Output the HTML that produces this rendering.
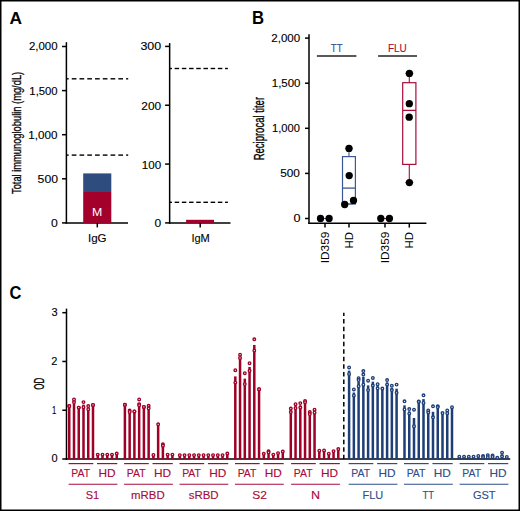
<!DOCTYPE html>
<html><head><meta charset="utf-8"><style>
html,body{margin:0;padding:0;background:#fff;}
svg{display:block;}
text{font-family:"Liberation Sans", sans-serif;}
</style></head><body>
<svg width="520" height="511" viewBox="0 0 520 511">
<rect x="0" y="0" width="520" height="511" fill="#fff"/>
<text transform="translate(9.44,23.67) scale(1.0176,1)" font-size="17.058" fill="#000" font-weight="bold">A</text>
<text transform="translate(252.01,23.96) scale(0.9488,1)" font-size="17.623" fill="#000" font-weight="bold">B</text>
<text transform="translate(9.54,298.5) scale(0.9325,1)" font-size="17.681" fill="#000" font-weight="bold">C</text>
<line x1="66.4" y1="42.2" x2="66.4" y2="223.7" stroke="#000" stroke-width="1.5"/>
<line x1="65.65" y1="223" x2="128" y2="223" stroke="#000" stroke-width="1.5"/>
<line x1="62" y1="46.5" x2="66.4" y2="46.5" stroke="#000" stroke-width="1.5"/>
<line x1="62" y1="90.6" x2="66.4" y2="90.6" stroke="#000" stroke-width="1.5"/>
<line x1="62" y1="134.7" x2="66.4" y2="134.7" stroke="#000" stroke-width="1.5"/>
<line x1="62" y1="178.8" x2="66.4" y2="178.8" stroke="#000" stroke-width="1.5"/>
<line x1="62" y1="222.9" x2="66.4" y2="222.9" stroke="#000" stroke-width="1.5"/>
<text transform="translate(28.93,50.3) scale(1.1159,1)" font-size="10.282" fill="#000" stroke="#000" stroke-width="0.12">2,000</text>
<text transform="translate(29.35,94.6) scale(1.1011,1)" font-size="10.282" fill="#000" stroke="#000" stroke-width="0.12">1,500</text>
<text transform="translate(28.33,139.1) scale(1.1337,1)" font-size="10.282" fill="#000" stroke="#000" stroke-width="0.12">1,000</text>
<text transform="translate(37.61,183.1) scale(1.1744,1)" font-size="10.423" fill="#000" stroke="#000" stroke-width="0.12">500</text>
<text transform="translate(51.11,227.29) scale(1.1559,1)" font-size="10.563" fill="#000" stroke="#000" stroke-width="0.12">0</text>
<line x1="97.3" y1="223" x2="97.3" y2="227.4" stroke="#000" stroke-width="1.5"/>
<rect x="83.2" y="173.4" width="28.1" height="18.6" fill="#2e4c7e"/>
<rect x="83.2" y="192" width="28.1" height="30.9" fill="#a4002c"/>
<text transform="translate(92.01,216) scale(1.1101,1)" font-size="11.159" fill="#fff">M</text>
<line x1="66.4" y1="78.8" x2="68.69" y2="78.8" stroke="#000" stroke-width="1.4"/>
<line x1="71.75" y1="78.8" x2="76.45" y2="78.8" stroke="#000" stroke-width="1.4"/>
<line x1="79.51" y1="78.8" x2="84.21" y2="78.8" stroke="#000" stroke-width="1.4"/>
<line x1="87.27" y1="78.8" x2="91.97" y2="78.8" stroke="#000" stroke-width="1.4"/>
<line x1="95.03" y1="78.8" x2="99.73" y2="78.8" stroke="#000" stroke-width="1.4"/>
<line x1="102.79" y1="78.8" x2="107.49" y2="78.8" stroke="#000" stroke-width="1.4"/>
<line x1="110.55" y1="78.8" x2="115.25" y2="78.8" stroke="#000" stroke-width="1.4"/>
<line x1="118.31" y1="78.8" x2="123.01" y2="78.8" stroke="#000" stroke-width="1.4"/>
<line x1="126.07" y1="78.8" x2="128.2" y2="78.8" stroke="#000" stroke-width="1.4"/>
<line x1="66.4" y1="155.1" x2="68.69" y2="155.1" stroke="#000" stroke-width="1.4"/>
<line x1="71.75" y1="155.1" x2="76.45" y2="155.1" stroke="#000" stroke-width="1.4"/>
<line x1="79.51" y1="155.1" x2="84.21" y2="155.1" stroke="#000" stroke-width="1.4"/>
<line x1="87.27" y1="155.1" x2="91.97" y2="155.1" stroke="#000" stroke-width="1.4"/>
<line x1="95.03" y1="155.1" x2="99.73" y2="155.1" stroke="#000" stroke-width="1.4"/>
<line x1="102.79" y1="155.1" x2="107.49" y2="155.1" stroke="#000" stroke-width="1.4"/>
<line x1="110.55" y1="155.1" x2="115.25" y2="155.1" stroke="#000" stroke-width="1.4"/>
<line x1="118.31" y1="155.1" x2="123.01" y2="155.1" stroke="#000" stroke-width="1.4"/>
<line x1="126.07" y1="155.1" x2="128.2" y2="155.1" stroke="#000" stroke-width="1.4"/>
<text transform="translate(87.96,241.6) scale(1.0249,1)" font-size="11.304" fill="#000" stroke="#000" stroke-width="0.12">IgG</text>
<text transform="translate(20.8,194.03) rotate(-90) scale(0.7223,1)" font-size="12.899" fill="#000" stroke="#000" stroke-width="0.3">Total immunoglobulin (mg/dL)</text>
<line x1="169.65" y1="43.1" x2="169.65" y2="223.7" stroke="#000" stroke-width="1.5"/>
<line x1="168.9" y1="222.9" x2="230.5" y2="222.9" stroke="#000" stroke-width="1.5"/>
<line x1="165.1" y1="46.41" x2="169.65" y2="46.41" stroke="#000" stroke-width="1.5"/>
<line x1="165.1" y1="105.24" x2="169.65" y2="105.24" stroke="#000" stroke-width="1.5"/>
<line x1="165.1" y1="164.07" x2="169.65" y2="164.07" stroke="#000" stroke-width="1.5"/>
<line x1="165.1" y1="222.9" x2="169.65" y2="222.9" stroke="#000" stroke-width="1.5"/>
<text transform="translate(140.4,50.25) scale(1.2256,1)" font-size="10.141" fill="#000" stroke="#000" stroke-width="0.12">300</text>
<text transform="translate(141.31,109.6) scale(1.1548,1)" font-size="10.282" fill="#000" stroke="#000" stroke-width="0.12">200</text>
<text transform="translate(141.73,168.59) scale(1.0921,1)" font-size="10.634" fill="#000" stroke="#000" stroke-width="0.12">100</text>
<text transform="translate(154.42,227.39) scale(1.1211,1)" font-size="10.704" fill="#000" stroke="#000" stroke-width="0.12">0</text>
<line x1="200.2" y1="222.9" x2="200.2" y2="227.4" stroke="#000" stroke-width="1.5"/>
<rect x="186.1" y="219.8" width="27.9" height="3.1" fill="#a4002c"/>
<line x1="169.65" y1="68.5" x2="171.95" y2="68.5" stroke="#000" stroke-width="1.4"/>
<line x1="174.65" y1="68.5" x2="179.15" y2="68.5" stroke="#000" stroke-width="1.4"/>
<line x1="181.85" y1="68.5" x2="186.35" y2="68.5" stroke="#000" stroke-width="1.4"/>
<line x1="189.05" y1="68.5" x2="193.55" y2="68.5" stroke="#000" stroke-width="1.4"/>
<line x1="196.25" y1="68.5" x2="200.75" y2="68.5" stroke="#000" stroke-width="1.4"/>
<line x1="203.45" y1="68.5" x2="207.95" y2="68.5" stroke="#000" stroke-width="1.4"/>
<line x1="210.65" y1="68.5" x2="215.15" y2="68.5" stroke="#000" stroke-width="1.4"/>
<line x1="217.85" y1="68.5" x2="222.35" y2="68.5" stroke="#000" stroke-width="1.4"/>
<line x1="225.05" y1="68.5" x2="227.9" y2="68.5" stroke="#000" stroke-width="1.4"/>
<line x1="169.65" y1="202.3" x2="171.95" y2="202.3" stroke="#000" stroke-width="1.4"/>
<line x1="174.65" y1="202.3" x2="179.15" y2="202.3" stroke="#000" stroke-width="1.4"/>
<line x1="181.85" y1="202.3" x2="186.35" y2="202.3" stroke="#000" stroke-width="1.4"/>
<line x1="189.05" y1="202.3" x2="193.55" y2="202.3" stroke="#000" stroke-width="1.4"/>
<line x1="196.25" y1="202.3" x2="200.75" y2="202.3" stroke="#000" stroke-width="1.4"/>
<line x1="203.45" y1="202.3" x2="207.95" y2="202.3" stroke="#000" stroke-width="1.4"/>
<line x1="210.65" y1="202.3" x2="215.15" y2="202.3" stroke="#000" stroke-width="1.4"/>
<line x1="217.85" y1="202.3" x2="222.35" y2="202.3" stroke="#000" stroke-width="1.4"/>
<line x1="225.05" y1="202.3" x2="227.9" y2="202.3" stroke="#000" stroke-width="1.4"/>
<text transform="translate(191.41,241.5) scale(0.9640,1)" font-size="11.449" fill="#000" stroke="#000" stroke-width="0.12">IgM</text>
<line x1="309" y1="34.25" x2="309" y2="224" stroke="#000" stroke-width="1.5"/>
<line x1="308.25" y1="223.3" x2="426.4" y2="223.3" stroke="#000" stroke-width="1.5"/>
<line x1="305" y1="38.1" x2="309" y2="38.1" stroke="#000" stroke-width="1.5"/>
<line x1="305" y1="83.2" x2="309" y2="83.2" stroke="#000" stroke-width="1.5"/>
<line x1="305" y1="128.3" x2="309" y2="128.3" stroke="#000" stroke-width="1.5"/>
<line x1="305" y1="173.4" x2="309" y2="173.4" stroke="#000" stroke-width="1.5"/>
<line x1="305" y1="218.5" x2="309" y2="218.5" stroke="#000" stroke-width="1.5"/>
<text transform="translate(271.27,41.8) scale(1.1396,1)" font-size="10.141" fill="#000" stroke="#000" stroke-width="0.12">2,000</text>
<text transform="translate(271.79,86.75) scale(1.1308,1)" font-size="10.141" fill="#000" stroke="#000" stroke-width="0.12">1,500</text>
<text transform="translate(271.96,132.1) scale(1.0998,1)" font-size="10.141" fill="#000" stroke="#000" stroke-width="0.12">1,000</text>
<text transform="translate(280.23,177) scale(1.1634,1)" font-size="10.141" fill="#000" stroke="#000" stroke-width="0.12">500</text>
<text transform="translate(293.49,221.7) scale(1.2286,1)" font-size="10.282" fill="#000" stroke="#000" stroke-width="0.12">0</text>
<line x1="325" y1="223.3" x2="325" y2="227.6" stroke="#000" stroke-width="1.5"/>
<line x1="349" y1="223.3" x2="349" y2="227.6" stroke="#000" stroke-width="1.5"/>
<line x1="385" y1="223.3" x2="385" y2="227.6" stroke="#000" stroke-width="1.5"/>
<line x1="409.3" y1="223.3" x2="409.3" y2="227.6" stroke="#000" stroke-width="1.5"/>
<text transform="translate(263.9,160.36) rotate(-90) scale(0.6767,1)" font-size="14.058" fill="#000" stroke="#000" stroke-width="0.35">Reciprocal titer</text>
<text transform="translate(330.86,51.73) scale(0.8769,1)" font-size="10.870" fill="#2f4d88" stroke="#2f4d88" stroke-width="0.12">TT</text>
<text transform="translate(388,52) scale(0.8795,1)" font-size="11.304" fill="#a80a38" stroke="#a80a38" stroke-width="0.12">FLU</text>
<line x1="316.9" y1="56" x2="356.4" y2="56" stroke="#222" stroke-width="1.5"/>
<line x1="378.1" y1="56" x2="417" y2="56" stroke="#222" stroke-width="1.5"/>
<line x1="349" y1="148.4" x2="349" y2="156.6" stroke="#3a5893" stroke-width="1.1"/>
<line x1="349" y1="204" x2="349" y2="204" stroke="#3a5893" stroke-width="1.1"/>
<line x1="344.9" y1="148.4" x2="353.1" y2="148.4" stroke="#3a5893" stroke-width="0.8"/>
<line x1="344.9" y1="204" x2="353.1" y2="204" stroke="#3a5893" stroke-width="0.8"/>
<rect x="342.5" y="156.6" width="12.9" height="47.4" fill="none" stroke="#3a5893" stroke-width="1.2"/>
<line x1="342.5" y1="188.1" x2="355.4" y2="188.1" stroke="#3a5893" stroke-width="1.3"/>
<line x1="409.3" y1="73.4" x2="409.3" y2="82.7" stroke="#a50d3a" stroke-width="1.1"/>
<line x1="409.3" y1="164.4" x2="409.3" y2="182.6" stroke="#a50d3a" stroke-width="1.1"/>
<line x1="405.2" y1="73.4" x2="413.4" y2="73.4" stroke="#a50d3a" stroke-width="0.8"/>
<line x1="405.2" y1="182.6" x2="413.4" y2="182.6" stroke="#a50d3a" stroke-width="0.8"/>
<rect x="402.7" y="82.7" width="13.2" height="81.7" fill="none" stroke="#a50d3a" stroke-width="1.2"/>
<line x1="402.7" y1="110.4" x2="415.9" y2="110.4" stroke="#a50d3a" stroke-width="1.3"/>
<line x1="322" y1="218.5" x2="328" y2="218.5" stroke="#3a5893" stroke-width="1"/>
<line x1="382" y1="218.5" x2="388" y2="218.5" stroke="#a50d3a" stroke-width="1"/>
<circle cx="320.5" cy="218.5" r="3.65" fill="#000"/>
<circle cx="329.1" cy="218.5" r="3.65" fill="#000"/>
<circle cx="349" cy="148.4" r="3.65" fill="#000"/>
<circle cx="349.2" cy="175.6" r="3.65" fill="#000"/>
<circle cx="344.7" cy="204.5" r="3.65" fill="#000"/>
<circle cx="353.5" cy="200.4" r="3.65" fill="#000"/>
<circle cx="380.8" cy="218.5" r="3.65" fill="#000"/>
<circle cx="389.4" cy="218.5" r="3.65" fill="#000"/>
<circle cx="409.4" cy="73.4" r="3.65" fill="#000"/>
<circle cx="409.3" cy="103.7" r="3.65" fill="#000"/>
<circle cx="409.2" cy="117.2" r="3.65" fill="#000"/>
<circle cx="409.4" cy="182.6" r="3.65" fill="#000"/>
<text transform="translate(328.5,263.27) rotate(-90) scale(1.0101,1)" font-size="11.739" fill="#000">ID359</text>
<text transform="translate(388.5,263.27) rotate(-90) scale(1.0101,1)" font-size="11.739" fill="#000">ID359</text>
<text transform="translate(352.5,248.41) rotate(-90) scale(0.9838,1)" font-size="11.594" fill="#000">HD</text>
<text transform="translate(412.8,248.41) rotate(-90) scale(0.9838,1)" font-size="11.594" fill="#000">HD</text>
<line x1="66.5" y1="308.6" x2="66.5" y2="459.8" stroke="#000" stroke-width="1.5"/>
<line x1="65.75" y1="459.1" x2="510.2" y2="459.1" stroke="#000" stroke-width="1.5"/>
<line x1="62.3" y1="459" x2="66.5" y2="459" stroke="#000" stroke-width="1.5"/>
<line x1="62.3" y1="410.23" x2="66.5" y2="410.23" stroke="#000" stroke-width="1.5"/>
<line x1="62.3" y1="361.46" x2="66.5" y2="361.46" stroke="#000" stroke-width="1.5"/>
<line x1="62.3" y1="312.69" x2="66.5" y2="312.69" stroke="#000" stroke-width="1.5"/>
<text transform="translate(51.46,316.19) scale(1.0474,1)" font-size="10.563" fill="#000" stroke="#000" stroke-width="0.12">3</text>
<text transform="translate(51.35,364.8) scale(1.0121,1)" font-size="10.857" fill="#000" stroke="#000" stroke-width="0.12">2</text>
<text transform="translate(51.92,413.6) scale(0.7254,1)" font-size="10.580" fill="#000" stroke="#000" stroke-width="0.12">1</text>
<text transform="translate(51.46,462.3) scale(1.0647,1)" font-size="10.282" fill="#000" stroke="#000" stroke-width="0.12">0</text>
<text transform="translate(43.7,389.86) rotate(-90) scale(0.5751,1)" font-size="14.058" fill="#000" stroke="#000" stroke-width="0.25">OD</text>
<line x1="343.8" y1="312.8" x2="343.8" y2="316.06" stroke="#000" stroke-width="1.5"/>
<line x1="343.8" y1="319.1" x2="343.8" y2="323.6" stroke="#000" stroke-width="1.5"/>
<line x1="343.8" y1="326.64" x2="343.8" y2="331.14" stroke="#000" stroke-width="1.5"/>
<line x1="343.8" y1="334.18" x2="343.8" y2="338.68" stroke="#000" stroke-width="1.5"/>
<line x1="343.8" y1="341.72" x2="343.8" y2="346.22" stroke="#000" stroke-width="1.5"/>
<line x1="343.8" y1="349.26" x2="343.8" y2="353.76" stroke="#000" stroke-width="1.5"/>
<line x1="343.8" y1="356.8" x2="343.8" y2="361.3" stroke="#000" stroke-width="1.5"/>
<line x1="343.8" y1="364.34" x2="343.8" y2="368.84" stroke="#000" stroke-width="1.5"/>
<line x1="343.8" y1="371.88" x2="343.8" y2="376.38" stroke="#000" stroke-width="1.5"/>
<line x1="343.8" y1="379.42" x2="343.8" y2="383.92" stroke="#000" stroke-width="1.5"/>
<line x1="343.8" y1="386.96" x2="343.8" y2="391.46" stroke="#000" stroke-width="1.5"/>
<line x1="343.8" y1="394.5" x2="343.8" y2="399" stroke="#000" stroke-width="1.5"/>
<line x1="343.8" y1="402.04" x2="343.8" y2="406.54" stroke="#000" stroke-width="1.5"/>
<line x1="343.8" y1="409.58" x2="343.8" y2="414.08" stroke="#000" stroke-width="1.5"/>
<line x1="343.8" y1="417.12" x2="343.8" y2="421.62" stroke="#000" stroke-width="1.5"/>
<line x1="343.8" y1="424.66" x2="343.8" y2="429.16" stroke="#000" stroke-width="1.5"/>
<line x1="343.8" y1="432.2" x2="343.8" y2="436.7" stroke="#000" stroke-width="1.5"/>
<line x1="343.8" y1="439.74" x2="343.8" y2="444.24" stroke="#000" stroke-width="1.5"/>
<line x1="343.8" y1="447.28" x2="343.8" y2="451.78" stroke="#000" stroke-width="1.5"/>
<line x1="343.8" y1="454.82" x2="343.8" y2="459" stroke="#000" stroke-width="1.5"/>
<rect x="68" y="406" width="2.5" height="53" fill="#9f0027"/>
<rect x="72.75" y="400.75" width="2.5" height="58.25" fill="#9f0027"/>
<rect x="77.5" y="407.6" width="2.5" height="51.4" fill="#9f0027"/>
<rect x="82.25" y="404.65" width="2.5" height="54.35" fill="#9f0027"/>
<rect x="87" y="407.6" width="2.5" height="51.4" fill="#9f0027"/>
<rect x="91.75" y="404.9" width="2.5" height="54.1" fill="#9f0027"/>
<rect x="96.5" y="454.6" width="2.5" height="4.4" fill="#9f0027"/>
<rect x="101.25" y="454.6" width="2.5" height="4.4" fill="#9f0027"/>
<rect x="106" y="454.6" width="2.5" height="4.4" fill="#9f0027"/>
<rect x="110.75" y="454.6" width="2.5" height="4.4" fill="#9f0027"/>
<rect x="115.5" y="453.5" width="2.5" height="5.5" fill="#9f0027"/>
<circle cx="69.25" cy="406" r="1.3" fill="#fff" stroke="#9f0027" stroke-width="1.35"/>
<circle cx="69.25" cy="406" r="1.3" fill="#fff" stroke="#9f0027" stroke-width="1.35"/>
<circle cx="74" cy="399.4" r="1.3" fill="#fff" stroke="#9f0027" stroke-width="1.35"/>
<circle cx="74" cy="402.1" r="1.3" fill="#fff" stroke="#9f0027" stroke-width="1.35"/>
<circle cx="78.75" cy="407.6" r="1.3" fill="#fff" stroke="#9f0027" stroke-width="1.35"/>
<circle cx="78.75" cy="407.6" r="1.3" fill="#fff" stroke="#9f0027" stroke-width="1.35"/>
<circle cx="83.5" cy="402.1" r="1.3" fill="#fff" stroke="#9f0027" stroke-width="1.35"/>
<circle cx="83.5" cy="407.2" r="1.3" fill="#fff" stroke="#9f0027" stroke-width="1.35"/>
<circle cx="88.25" cy="406" r="1.3" fill="#fff" stroke="#9f0027" stroke-width="1.35"/>
<circle cx="88.25" cy="409.2" r="1.3" fill="#fff" stroke="#9f0027" stroke-width="1.35"/>
<circle cx="93" cy="404.9" r="1.3" fill="#fff" stroke="#9f0027" stroke-width="1.35"/>
<circle cx="93" cy="404.9" r="1.3" fill="#fff" stroke="#9f0027" stroke-width="1.35"/>
<circle cx="97.75" cy="454.6" r="1.3" fill="#fff" stroke="#9f0027" stroke-width="1.35"/>
<circle cx="102.5" cy="454.6" r="1.3" fill="#fff" stroke="#9f0027" stroke-width="1.35"/>
<circle cx="107.25" cy="454.6" r="1.3" fill="#fff" stroke="#9f0027" stroke-width="1.35"/>
<circle cx="112" cy="454.6" r="1.3" fill="#fff" stroke="#9f0027" stroke-width="1.35"/>
<circle cx="116.75" cy="453.5" r="1.3" fill="#fff" stroke="#9f0027" stroke-width="1.35"/>
<line x1="68.6" y1="463.6" x2="93.3" y2="463.6" stroke="#a80a38" stroke-width="1.2"/>
<line x1="97" y1="463.6" x2="117.3" y2="463.6" stroke="#a80a38" stroke-width="1.2"/>
<line x1="68.6" y1="484.25" x2="117.4" y2="484.25" stroke="#a80a38" stroke-width="1.2"/>
<text transform="translate(71.26,477.1) scale(0.9238,1)" font-size="11.304" fill="#a80a38" stroke="#a80a38" stroke-width="0.12">PAT</text>
<text transform="translate(98.4,477.1) scale(1.0494,1)" font-size="11.304" fill="#a80a38" stroke="#a80a38" stroke-width="0.12">HD</text>
<text transform="translate(85.7,498.5) scale(0.9507,1)" font-size="11.594" fill="#a80a38" stroke="#a80a38" stroke-width="0.12">S1</text>
<rect x="123.65" y="404.8" width="2.5" height="54.2" fill="#9f0027"/>
<rect x="128.4" y="411.2" width="2.5" height="47.8" fill="#9f0027"/>
<rect x="133.15" y="411.4" width="2.5" height="47.6" fill="#9f0027"/>
<rect x="137.9" y="402.9" width="2.5" height="56.1" fill="#9f0027"/>
<rect x="142.65" y="406.9" width="2.5" height="52.1" fill="#9f0027"/>
<rect x="147.4" y="407.05" width="2.5" height="51.95" fill="#9f0027"/>
<rect x="152.15" y="454.9" width="2.5" height="4.1" fill="#9f0027"/>
<rect x="156.9" y="424.3" width="2.5" height="34.7" fill="#9f0027"/>
<rect x="161.65" y="445" width="2.5" height="14" fill="#9f0027"/>
<rect x="166.4" y="454.6" width="2.5" height="4.4" fill="#9f0027"/>
<rect x="171.15" y="454.6" width="2.5" height="4.4" fill="#9f0027"/>
<circle cx="124.9" cy="404.8" r="1.3" fill="#fff" stroke="#9f0027" stroke-width="1.35"/>
<circle cx="124.9" cy="404.8" r="1.3" fill="#fff" stroke="#9f0027" stroke-width="1.35"/>
<circle cx="129.65" cy="410.5" r="1.3" fill="#fff" stroke="#9f0027" stroke-width="1.35"/>
<circle cx="129.65" cy="411.9" r="1.3" fill="#fff" stroke="#9f0027" stroke-width="1.35"/>
<circle cx="134.4" cy="411.4" r="1.3" fill="#fff" stroke="#9f0027" stroke-width="1.35"/>
<circle cx="134.4" cy="411.4" r="1.3" fill="#fff" stroke="#9f0027" stroke-width="1.35"/>
<circle cx="139.15" cy="399.4" r="1.3" fill="#fff" stroke="#9f0027" stroke-width="1.35"/>
<circle cx="139.15" cy="404.1" r="1.3" fill="#fff" stroke="#9f0027" stroke-width="1.35"/>
<circle cx="139.15" cy="405.2" r="1.3" fill="#fff" stroke="#9f0027" stroke-width="1.35"/>
<circle cx="143.9" cy="406.9" r="1.3" fill="#fff" stroke="#9f0027" stroke-width="1.35"/>
<circle cx="143.9" cy="406.9" r="1.3" fill="#fff" stroke="#9f0027" stroke-width="1.35"/>
<circle cx="148.65" cy="405.8" r="1.3" fill="#fff" stroke="#9f0027" stroke-width="1.35"/>
<circle cx="148.65" cy="408.3" r="1.3" fill="#fff" stroke="#9f0027" stroke-width="1.35"/>
<circle cx="153.4" cy="454.9" r="1.3" fill="#fff" stroke="#9f0027" stroke-width="1.35"/>
<circle cx="158.15" cy="424.3" r="1.3" fill="#fff" stroke="#9f0027" stroke-width="1.35"/>
<circle cx="162.9" cy="444.3" r="1.3" fill="#fff" stroke="#9f0027" stroke-width="1.35"/>
<circle cx="162.9" cy="445.7" r="1.3" fill="#fff" stroke="#9f0027" stroke-width="1.35"/>
<circle cx="167.65" cy="454.6" r="1.3" fill="#fff" stroke="#9f0027" stroke-width="1.35"/>
<circle cx="172.4" cy="454.6" r="1.3" fill="#fff" stroke="#9f0027" stroke-width="1.35"/>
<line x1="124.1" y1="463.6" x2="148.8" y2="463.6" stroke="#a80a38" stroke-width="1.2"/>
<line x1="152.5" y1="463.6" x2="172.8" y2="463.6" stroke="#a80a38" stroke-width="1.2"/>
<line x1="124.1" y1="484.25" x2="172.9" y2="484.25" stroke="#a80a38" stroke-width="1.2"/>
<text transform="translate(126.76,477.1) scale(0.9238,1)" font-size="11.304" fill="#a80a38" stroke="#a80a38" stroke-width="0.12">PAT</text>
<text transform="translate(153.9,477.1) scale(1.0494,1)" font-size="11.304" fill="#a80a38" stroke="#a80a38" stroke-width="0.12">HD</text>
<text transform="translate(131.11,498.5) scale(0.9844,1)" font-size="11.594" fill="#a80a38" stroke="#a80a38" stroke-width="0.12">mRBD</text>
<rect x="178.55" y="455.1" width="2.5" height="3.9" fill="#9f0027"/>
<rect x="183.3" y="455.1" width="2.5" height="3.9" fill="#9f0027"/>
<rect x="188.05" y="455.1" width="2.5" height="3.9" fill="#9f0027"/>
<rect x="192.8" y="455.1" width="2.5" height="3.9" fill="#9f0027"/>
<rect x="197.55" y="455.1" width="2.5" height="3.9" fill="#9f0027"/>
<rect x="202.3" y="455.1" width="2.5" height="3.9" fill="#9f0027"/>
<rect x="207.05" y="455.1" width="2.5" height="3.9" fill="#9f0027"/>
<rect x="211.8" y="455.1" width="2.5" height="3.9" fill="#9f0027"/>
<rect x="216.55" y="455.1" width="2.5" height="3.9" fill="#9f0027"/>
<rect x="221.3" y="455.1" width="2.5" height="3.9" fill="#9f0027"/>
<rect x="226.05" y="453.5" width="2.5" height="5.5" fill="#9f0027"/>
<circle cx="179.8" cy="455.1" r="1.3" fill="#fff" stroke="#9f0027" stroke-width="1.35"/>
<circle cx="184.55" cy="455.1" r="1.3" fill="#fff" stroke="#9f0027" stroke-width="1.35"/>
<circle cx="189.3" cy="455.1" r="1.3" fill="#fff" stroke="#9f0027" stroke-width="1.35"/>
<circle cx="194.05" cy="455.1" r="1.3" fill="#fff" stroke="#9f0027" stroke-width="1.35"/>
<circle cx="198.8" cy="455.1" r="1.3" fill="#fff" stroke="#9f0027" stroke-width="1.35"/>
<circle cx="203.55" cy="455.1" r="1.3" fill="#fff" stroke="#9f0027" stroke-width="1.35"/>
<circle cx="208.3" cy="455.1" r="1.3" fill="#fff" stroke="#9f0027" stroke-width="1.35"/>
<circle cx="213.05" cy="455.1" r="1.3" fill="#fff" stroke="#9f0027" stroke-width="1.35"/>
<circle cx="217.8" cy="455.1" r="1.3" fill="#fff" stroke="#9f0027" stroke-width="1.35"/>
<circle cx="222.55" cy="455.1" r="1.3" fill="#fff" stroke="#9f0027" stroke-width="1.35"/>
<circle cx="227.3" cy="453.5" r="1.3" fill="#fff" stroke="#9f0027" stroke-width="1.35"/>
<line x1="179.5" y1="463.6" x2="204.2" y2="463.6" stroke="#a80a38" stroke-width="1.2"/>
<line x1="207.9" y1="463.6" x2="228.2" y2="463.6" stroke="#a80a38" stroke-width="1.2"/>
<line x1="179.5" y1="484.25" x2="228.3" y2="484.25" stroke="#a80a38" stroke-width="1.2"/>
<text transform="translate(182.16,477.1) scale(0.9238,1)" font-size="11.304" fill="#a80a38" stroke="#a80a38" stroke-width="0.12">PAT</text>
<text transform="translate(209.3,477.1) scale(1.0494,1)" font-size="11.304" fill="#a80a38" stroke="#a80a38" stroke-width="0.12">HD</text>
<text transform="translate(188.66,498.5) scale(0.9901,1)" font-size="11.594" fill="#a80a38" stroke="#a80a38" stroke-width="0.12">sRBD</text>
<rect x="234.05" y="376.4" width="2.5" height="82.6" fill="#9f0027"/>
<rect x="238.8" y="356.3" width="2.5" height="102.7" fill="#9f0027"/>
<rect x="243.55" y="378.65" width="2.5" height="80.35" fill="#9f0027"/>
<rect x="248.3" y="367" width="2.5" height="92" fill="#9f0027"/>
<rect x="253.05" y="344.95" width="2.5" height="114.05" fill="#9f0027"/>
<rect x="257.8" y="389.2" width="2.5" height="69.8" fill="#9f0027"/>
<rect x="262.55" y="453.8" width="2.5" height="5.2" fill="#9f0027"/>
<rect x="267.3" y="451.75" width="2.5" height="7.25" fill="#9f0027"/>
<rect x="272.05" y="454.6" width="2.5" height="4.4" fill="#9f0027"/>
<rect x="276.8" y="453.1" width="2.5" height="5.9" fill="#9f0027"/>
<rect x="281.55" y="451.5" width="2.5" height="7.5" fill="#9f0027"/>
<circle cx="235.3" cy="370.2" r="1.3" fill="#fff" stroke="#9f0027" stroke-width="1.35"/>
<circle cx="235.3" cy="382.6" r="1.3" fill="#fff" stroke="#9f0027" stroke-width="1.35"/>
<circle cx="240.05" cy="354.7" r="1.3" fill="#fff" stroke="#9f0027" stroke-width="1.35"/>
<circle cx="240.05" cy="357.9" r="1.3" fill="#fff" stroke="#9f0027" stroke-width="1.35"/>
<circle cx="244.8" cy="373.2" r="1.3" fill="#fff" stroke="#9f0027" stroke-width="1.35"/>
<circle cx="244.8" cy="384.1" r="1.3" fill="#fff" stroke="#9f0027" stroke-width="1.35"/>
<circle cx="249.55" cy="363.2" r="1.3" fill="#fff" stroke="#9f0027" stroke-width="1.35"/>
<circle cx="249.55" cy="370.8" r="1.3" fill="#fff" stroke="#9f0027" stroke-width="1.35"/>
<circle cx="254.3" cy="339.3" r="1.3" fill="#fff" stroke="#9f0027" stroke-width="1.35"/>
<circle cx="254.3" cy="350.6" r="1.3" fill="#fff" stroke="#9f0027" stroke-width="1.35"/>
<circle cx="259.05" cy="389.2" r="1.3" fill="#fff" stroke="#9f0027" stroke-width="1.35"/>
<circle cx="259.05" cy="389.2" r="1.3" fill="#fff" stroke="#9f0027" stroke-width="1.35"/>
<circle cx="263.8" cy="453.8" r="1.3" fill="#fff" stroke="#9f0027" stroke-width="1.35"/>
<circle cx="268.55" cy="451.2" r="1.3" fill="#fff" stroke="#9f0027" stroke-width="1.35"/>
<circle cx="268.55" cy="452.3" r="1.3" fill="#fff" stroke="#9f0027" stroke-width="1.35"/>
<circle cx="273.3" cy="454.6" r="1.3" fill="#fff" stroke="#9f0027" stroke-width="1.35"/>
<circle cx="278.05" cy="453.1" r="1.3" fill="#fff" stroke="#9f0027" stroke-width="1.35"/>
<circle cx="282.8" cy="451.5" r="1.3" fill="#fff" stroke="#9f0027" stroke-width="1.35"/>
<line x1="235" y1="463.6" x2="259.7" y2="463.6" stroke="#a80a38" stroke-width="1.2"/>
<line x1="263.4" y1="463.6" x2="283.7" y2="463.6" stroke="#a80a38" stroke-width="1.2"/>
<line x1="235" y1="484.25" x2="283.8" y2="484.25" stroke="#a80a38" stroke-width="1.2"/>
<text transform="translate(237.66,477.1) scale(0.9238,1)" font-size="11.304" fill="#a80a38" stroke="#a80a38" stroke-width="0.12">PAT</text>
<text transform="translate(264.8,477.1) scale(1.0494,1)" font-size="11.304" fill="#a80a38" stroke="#a80a38" stroke-width="0.12">HD</text>
<text transform="translate(252.16,498.5) scale(1.0350,1)" font-size="11.594" fill="#a80a38" stroke="#a80a38" stroke-width="0.12">S2</text>
<rect x="289.55" y="410.25" width="2.5" height="48.75" fill="#9f0027"/>
<rect x="294.3" y="406.15" width="2.5" height="52.85" fill="#9f0027"/>
<rect x="299.05" y="405.3" width="2.5" height="53.7" fill="#9f0027"/>
<rect x="303.8" y="401.55" width="2.5" height="57.45" fill="#9f0027"/>
<rect x="308.55" y="413" width="2.5" height="46" fill="#9f0027"/>
<rect x="313.3" y="411.2" width="2.5" height="47.8" fill="#9f0027"/>
<rect x="318.05" y="450.7" width="2.5" height="8.3" fill="#9f0027"/>
<rect x="322.8" y="450.4" width="2.5" height="8.6" fill="#9f0027"/>
<rect x="327.55" y="453.7" width="2.5" height="5.3" fill="#9f0027"/>
<rect x="332.3" y="451.1" width="2.5" height="7.9" fill="#9f0027"/>
<rect x="337.05" y="449" width="2.5" height="10" fill="#9f0027"/>
<circle cx="290.8" cy="408.5" r="1.3" fill="#fff" stroke="#9f0027" stroke-width="1.35"/>
<circle cx="290.8" cy="412" r="1.3" fill="#fff" stroke="#9f0027" stroke-width="1.35"/>
<circle cx="295.55" cy="404.2" r="1.3" fill="#fff" stroke="#9f0027" stroke-width="1.35"/>
<circle cx="295.55" cy="408.1" r="1.3" fill="#fff" stroke="#9f0027" stroke-width="1.35"/>
<circle cx="300.3" cy="403.1" r="1.3" fill="#fff" stroke="#9f0027" stroke-width="1.35"/>
<circle cx="300.3" cy="407.5" r="1.3" fill="#fff" stroke="#9f0027" stroke-width="1.35"/>
<circle cx="305.05" cy="400.9" r="1.3" fill="#fff" stroke="#9f0027" stroke-width="1.35"/>
<circle cx="305.05" cy="402.2" r="1.3" fill="#fff" stroke="#9f0027" stroke-width="1.35"/>
<circle cx="309.8" cy="412" r="1.3" fill="#fff" stroke="#9f0027" stroke-width="1.35"/>
<circle cx="309.8" cy="414" r="1.3" fill="#fff" stroke="#9f0027" stroke-width="1.35"/>
<circle cx="314.55" cy="409.7" r="1.3" fill="#fff" stroke="#9f0027" stroke-width="1.35"/>
<circle cx="314.55" cy="412.7" r="1.3" fill="#fff" stroke="#9f0027" stroke-width="1.35"/>
<circle cx="319.3" cy="450.7" r="1.3" fill="#fff" stroke="#9f0027" stroke-width="1.35"/>
<circle cx="324.05" cy="450.4" r="1.3" fill="#fff" stroke="#9f0027" stroke-width="1.35"/>
<circle cx="328.8" cy="453.7" r="1.3" fill="#fff" stroke="#9f0027" stroke-width="1.35"/>
<circle cx="333.55" cy="451.1" r="1.3" fill="#fff" stroke="#9f0027" stroke-width="1.35"/>
<circle cx="338.3" cy="449" r="1.3" fill="#fff" stroke="#9f0027" stroke-width="1.35"/>
<line x1="291.1" y1="463.6" x2="315.8" y2="463.6" stroke="#a80a38" stroke-width="1.2"/>
<line x1="319.5" y1="463.6" x2="339.8" y2="463.6" stroke="#a80a38" stroke-width="1.2"/>
<line x1="291.1" y1="484.25" x2="339.9" y2="484.25" stroke="#a80a38" stroke-width="1.2"/>
<text transform="translate(293.76,477.1) scale(0.9238,1)" font-size="11.304" fill="#a80a38" stroke="#a80a38" stroke-width="0.12">PAT</text>
<text transform="translate(320.9,477.1) scale(1.0494,1)" font-size="11.304" fill="#a80a38" stroke="#a80a38" stroke-width="0.12">HD</text>
<text transform="translate(311,498.5) scale(1.0781,1)" font-size="11.594" fill="#a80a38" stroke="#a80a38" stroke-width="0.12">N</text>
<rect x="347.85" y="370.65" width="2.5" height="88.35" fill="#1e3e78"/>
<rect x="352.6" y="392.5" width="2.5" height="66.5" fill="#1e3e78"/>
<rect x="357.35" y="381.47" width="2.5" height="77.53" fill="#1e3e78"/>
<rect x="362.1" y="376.73" width="2.5" height="82.27" fill="#1e3e78"/>
<rect x="366.85" y="385.4" width="2.5" height="73.6" fill="#1e3e78"/>
<rect x="371.6" y="381.7" width="2.5" height="77.3" fill="#1e3e78"/>
<rect x="376.35" y="386.25" width="2.5" height="72.75" fill="#1e3e78"/>
<rect x="381.1" y="388.5" width="2.5" height="70.5" fill="#1e3e78"/>
<rect x="385.85" y="382.3" width="2.5" height="76.7" fill="#1e3e78"/>
<rect x="390.6" y="387.85" width="2.5" height="71.15" fill="#1e3e78"/>
<rect x="395.35" y="388.7" width="2.5" height="70.3" fill="#1e3e78"/>
<circle cx="349.1" cy="367.4" r="1.3" fill="#fff" stroke="#1e3e78" stroke-width="1.35"/>
<circle cx="349.1" cy="373.9" r="1.3" fill="#fff" stroke="#1e3e78" stroke-width="1.35"/>
<circle cx="353.85" cy="389.4" r="1.3" fill="#fff" stroke="#1e3e78" stroke-width="1.35"/>
<circle cx="353.85" cy="395.6" r="1.3" fill="#fff" stroke="#1e3e78" stroke-width="1.35"/>
<circle cx="358.6" cy="378.2" r="1.3" fill="#fff" stroke="#1e3e78" stroke-width="1.35"/>
<circle cx="358.6" cy="380" r="1.3" fill="#fff" stroke="#1e3e78" stroke-width="1.35"/>
<circle cx="358.6" cy="386.2" r="1.3" fill="#fff" stroke="#1e3e78" stroke-width="1.35"/>
<circle cx="363.35" cy="371" r="1.3" fill="#fff" stroke="#1e3e78" stroke-width="1.35"/>
<circle cx="363.35" cy="374.5" r="1.3" fill="#fff" stroke="#1e3e78" stroke-width="1.35"/>
<circle cx="363.35" cy="384.7" r="1.3" fill="#fff" stroke="#1e3e78" stroke-width="1.35"/>
<circle cx="368.1" cy="380.7" r="1.3" fill="#fff" stroke="#1e3e78" stroke-width="1.35"/>
<circle cx="368.1" cy="390.1" r="1.3" fill="#fff" stroke="#1e3e78" stroke-width="1.35"/>
<circle cx="372.85" cy="377.9" r="1.3" fill="#fff" stroke="#1e3e78" stroke-width="1.35"/>
<circle cx="372.85" cy="385.5" r="1.3" fill="#fff" stroke="#1e3e78" stroke-width="1.35"/>
<circle cx="377.6" cy="384.2" r="1.3" fill="#fff" stroke="#1e3e78" stroke-width="1.35"/>
<circle cx="377.6" cy="388.3" r="1.3" fill="#fff" stroke="#1e3e78" stroke-width="1.35"/>
<circle cx="382.35" cy="388.5" r="1.3" fill="#fff" stroke="#1e3e78" stroke-width="1.35"/>
<circle cx="387.1" cy="380" r="1.3" fill="#fff" stroke="#1e3e78" stroke-width="1.35"/>
<circle cx="387.1" cy="384.6" r="1.3" fill="#fff" stroke="#1e3e78" stroke-width="1.35"/>
<circle cx="391.85" cy="385.7" r="1.3" fill="#fff" stroke="#1e3e78" stroke-width="1.35"/>
<circle cx="391.85" cy="390" r="1.3" fill="#fff" stroke="#1e3e78" stroke-width="1.35"/>
<circle cx="396.6" cy="384.6" r="1.3" fill="#fff" stroke="#1e3e78" stroke-width="1.35"/>
<circle cx="396.6" cy="392.8" r="1.3" fill="#fff" stroke="#1e3e78" stroke-width="1.35"/>
<line x1="348.65" y1="463.6" x2="373.35" y2="463.6" stroke="#2f4d88" stroke-width="1.2"/>
<line x1="377.05" y1="463.6" x2="397.35" y2="463.6" stroke="#2f4d88" stroke-width="1.2"/>
<line x1="348.65" y1="484.25" x2="397.45" y2="484.25" stroke="#2f4d88" stroke-width="1.2"/>
<text transform="translate(351.31,477.1) scale(0.9238,1)" font-size="11.304" fill="#2f4d88" stroke="#2f4d88" stroke-width="0.12">PAT</text>
<text transform="translate(378.45,477.1) scale(1.0494,1)" font-size="11.304" fill="#2f4d88" stroke="#2f4d88" stroke-width="0.12">HD</text>
<text transform="translate(362.52,498.5) scale(0.9473,1)" font-size="11.594" fill="#2f4d88" stroke="#2f4d88" stroke-width="0.12">FLU</text>
<rect x="403.25" y="405.35" width="2.5" height="53.65" fill="#1e3e78"/>
<rect x="408" y="411.3" width="2.5" height="47.7" fill="#1e3e78"/>
<rect x="412.75" y="417.95" width="2.5" height="41.05" fill="#1e3e78"/>
<rect x="417.5" y="401.65" width="2.5" height="57.35" fill="#1e3e78"/>
<rect x="422.25" y="399.1" width="2.5" height="59.9" fill="#1e3e78"/>
<rect x="427" y="411.45" width="2.5" height="47.55" fill="#1e3e78"/>
<rect x="431.75" y="411.8" width="2.5" height="47.2" fill="#1e3e78"/>
<rect x="436.5" y="406.65" width="2.5" height="52.35" fill="#1e3e78"/>
<rect x="441.25" y="413" width="2.5" height="46" fill="#1e3e78"/>
<rect x="446" y="411.8" width="2.5" height="47.2" fill="#1e3e78"/>
<rect x="450.75" y="407.2" width="2.5" height="51.8" fill="#1e3e78"/>
<circle cx="404.5" cy="401.3" r="1.3" fill="#fff" stroke="#1e3e78" stroke-width="1.35"/>
<circle cx="404.5" cy="409.4" r="1.3" fill="#fff" stroke="#1e3e78" stroke-width="1.35"/>
<circle cx="409.25" cy="409" r="1.3" fill="#fff" stroke="#1e3e78" stroke-width="1.35"/>
<circle cx="409.25" cy="413.6" r="1.3" fill="#fff" stroke="#1e3e78" stroke-width="1.35"/>
<circle cx="414" cy="409.7" r="1.3" fill="#fff" stroke="#1e3e78" stroke-width="1.35"/>
<circle cx="414" cy="426.2" r="1.3" fill="#fff" stroke="#1e3e78" stroke-width="1.35"/>
<circle cx="418.75" cy="401.5" r="1.3" fill="#fff" stroke="#1e3e78" stroke-width="1.35"/>
<circle cx="418.75" cy="401.8" r="1.3" fill="#fff" stroke="#1e3e78" stroke-width="1.35"/>
<circle cx="423.5" cy="395.3" r="1.3" fill="#fff" stroke="#1e3e78" stroke-width="1.35"/>
<circle cx="423.5" cy="402.9" r="1.3" fill="#fff" stroke="#1e3e78" stroke-width="1.35"/>
<circle cx="428.25" cy="410.4" r="1.3" fill="#fff" stroke="#1e3e78" stroke-width="1.35"/>
<circle cx="428.25" cy="412.5" r="1.3" fill="#fff" stroke="#1e3e78" stroke-width="1.35"/>
<circle cx="433" cy="406.3" r="1.3" fill="#fff" stroke="#1e3e78" stroke-width="1.35"/>
<circle cx="433" cy="417.3" r="1.3" fill="#fff" stroke="#1e3e78" stroke-width="1.35"/>
<circle cx="437.75" cy="406.3" r="1.3" fill="#fff" stroke="#1e3e78" stroke-width="1.35"/>
<circle cx="437.75" cy="407" r="1.3" fill="#fff" stroke="#1e3e78" stroke-width="1.35"/>
<circle cx="442.5" cy="413" r="1.3" fill="#fff" stroke="#1e3e78" stroke-width="1.35"/>
<circle cx="447.25" cy="410.4" r="1.3" fill="#fff" stroke="#1e3e78" stroke-width="1.35"/>
<circle cx="447.25" cy="413.2" r="1.3" fill="#fff" stroke="#1e3e78" stroke-width="1.35"/>
<circle cx="452" cy="407.2" r="1.3" fill="#fff" stroke="#1e3e78" stroke-width="1.35"/>
<line x1="404" y1="463.6" x2="428.7" y2="463.6" stroke="#2f4d88" stroke-width="1.2"/>
<line x1="432.4" y1="463.6" x2="452.7" y2="463.6" stroke="#2f4d88" stroke-width="1.2"/>
<line x1="404" y1="484.25" x2="452.8" y2="484.25" stroke="#2f4d88" stroke-width="1.2"/>
<text transform="translate(406.66,477.1) scale(0.9238,1)" font-size="11.304" fill="#2f4d88" stroke="#2f4d88" stroke-width="0.12">PAT</text>
<text transform="translate(433.8,477.1) scale(1.0494,1)" font-size="11.304" fill="#2f4d88" stroke="#2f4d88" stroke-width="0.12">HD</text>
<text transform="translate(422.46,498.5) scale(0.8221,1)" font-size="11.594" fill="#2f4d88" stroke="#2f4d88" stroke-width="0.12">TT</text>
<rect x="458.05" y="456.7" width="2.5" height="2.3" fill="#1e3e78"/>
<rect x="462.8" y="456.7" width="2.5" height="2.3" fill="#1e3e78"/>
<rect x="467.55" y="456.7" width="2.5" height="2.3" fill="#1e3e78"/>
<rect x="472.3" y="456.7" width="2.5" height="2.3" fill="#1e3e78"/>
<rect x="477.05" y="455.9" width="2.5" height="3.1" fill="#1e3e78"/>
<rect x="481.8" y="456.5" width="2.5" height="2.5" fill="#1e3e78"/>
<rect x="486.55" y="456.15" width="2.5" height="2.85" fill="#1e3e78"/>
<rect x="491.3" y="456.15" width="2.5" height="2.85" fill="#1e3e78"/>
<rect x="496.05" y="457.8" width="2.5" height="1.2" fill="#1e3e78"/>
<rect x="500.8" y="454.45" width="2.5" height="4.55" fill="#1e3e78"/>
<rect x="505.55" y="456.9" width="2.5" height="2.1" fill="#1e3e78"/>
<circle cx="459.3" cy="456.7" r="1.3" fill="#fff" stroke="#1e3e78" stroke-width="1.35"/>
<circle cx="464.05" cy="456.7" r="1.3" fill="#fff" stroke="#1e3e78" stroke-width="1.35"/>
<circle cx="468.8" cy="456.7" r="1.3" fill="#fff" stroke="#1e3e78" stroke-width="1.35"/>
<circle cx="473.55" cy="456.7" r="1.3" fill="#fff" stroke="#1e3e78" stroke-width="1.35"/>
<circle cx="478.3" cy="455.9" r="1.3" fill="#fff" stroke="#1e3e78" stroke-width="1.35"/>
<circle cx="483.05" cy="456" r="1.3" fill="#fff" stroke="#1e3e78" stroke-width="1.35"/>
<circle cx="483.05" cy="457" r="1.3" fill="#fff" stroke="#1e3e78" stroke-width="1.35"/>
<circle cx="487.8" cy="455.1" r="1.3" fill="#fff" stroke="#1e3e78" stroke-width="1.35"/>
<circle cx="487.8" cy="457.2" r="1.3" fill="#fff" stroke="#1e3e78" stroke-width="1.35"/>
<circle cx="492.55" cy="455.4" r="1.3" fill="#fff" stroke="#1e3e78" stroke-width="1.35"/>
<circle cx="492.55" cy="456.9" r="1.3" fill="#fff" stroke="#1e3e78" stroke-width="1.35"/>
<circle cx="497.3" cy="457.8" r="1.3" fill="#fff" stroke="#1e3e78" stroke-width="1.35"/>
<circle cx="502.05" cy="452.6" r="1.3" fill="#fff" stroke="#1e3e78" stroke-width="1.35"/>
<circle cx="502.05" cy="456.3" r="1.3" fill="#fff" stroke="#1e3e78" stroke-width="1.35"/>
<circle cx="506.8" cy="456.9" r="1.3" fill="#fff" stroke="#1e3e78" stroke-width="1.35"/>
<line x1="459.6" y1="463.6" x2="484.3" y2="463.6" stroke="#2f4d88" stroke-width="1.2"/>
<line x1="488" y1="463.6" x2="508.3" y2="463.6" stroke="#2f4d88" stroke-width="1.2"/>
<line x1="459.6" y1="484.25" x2="508.4" y2="484.25" stroke="#2f4d88" stroke-width="1.2"/>
<text transform="translate(462.26,477.1) scale(0.9238,1)" font-size="11.304" fill="#2f4d88" stroke="#2f4d88" stroke-width="0.12">PAT</text>
<text transform="translate(489.4,477.1) scale(1.0494,1)" font-size="11.304" fill="#2f4d88" stroke="#2f4d88" stroke-width="0.12">HD</text>
<text transform="translate(472.95,498.5) scale(0.9516,1)" font-size="11.594" fill="#2f4d88" stroke="#2f4d88" stroke-width="0.12">GST</text>
<rect x="0.75" y="0.75" width="518.5" height="509.5" fill="none" stroke="#000" stroke-width="1.5"/>
</svg>
</body></html>
